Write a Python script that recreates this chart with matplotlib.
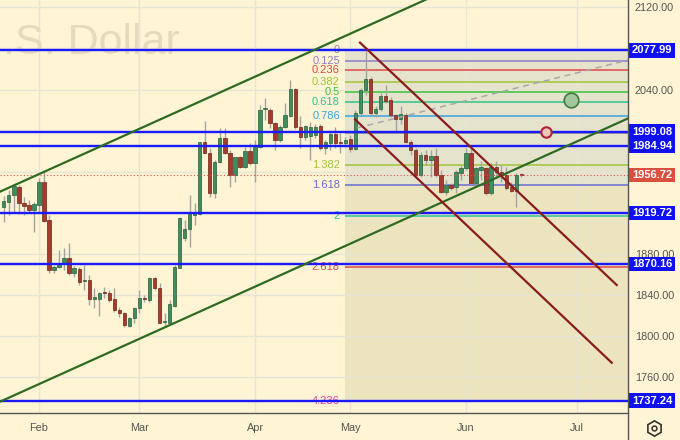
import numpy as np
import matplotlib
matplotlib.use('Agg')
import matplotlib.pyplot as plt
from matplotlib.patches import Rectangle
from matplotlib.lines import Line2D
import matplotlib.transforms as mtransforms

plt.rcParams['font.family'] = ['Liberation Sans', 'DejaVu Sans']

# ---------------- data ----------------
opens = [1925.4, 1930.9, 1937.4, 1945.5, 1929.9, 1927.6, 1922.8, 1927.6, 1950.3, 1913.0,
         1864.5, 1867.1, 1871.5, 1875.8, 1861.8, 1865.1, 1854.1, 1854.7, 1835.9, 1835.9,
         1842.5, 1842.3, 1835.9, 1825.5, 1822.9, 1810.2, 1817.4, 1827.1, 1836.2, 1835.2,
         1856.3, 1846.6, 1814.0, 1813.1, 1829.4, 1866.1, 1895.2, 1904.0, 1917.9, 1918.9,
         1988.6, 1978.5, 1939.6, 1969.8, 1993.1, 1978.5, 1956.8, 1974.0, 1964.3, 1980.5,
         1968.2, 1984.4, 2021.0, 2020.1, 2007.7, 1990.9, 2003.2, 2014.2, 2040.2, 2003.8,
         1994.1, 1995.0, 1996.0, 2004.8, 1982.8, 1988.3, 1996.7, 1988.6, 1988.2, 1992.0,
         1981.8, 2016.9, 2039.5, 2050.0, 2016.9, 2020.9, 2033.8, 2029.8, 2015.5, 2011.0,
         2015.2, 1989.2, 1981.2, 1956.8, 1976.3, 1971.4, 1975.3, 1956.8, 1940.6, 1947.1,
         1944.9, 1959.1, 1963.3, 1977.9, 1948.8, 1961.7, 1963.3, 1939.6, 1964.9, 1960.0,
         1956.8, 1945.0, 1941.6, 1957.5]
highs = [1936.4, 1942.2, 1948.0, 1947.0, 1935.0, 1932.5, 1930.9, 1953.6, 1960.0, 1918.0,
         1869.3, 1883.8, 1885.5, 1890.4, 1868.3, 1867.1, 1869.3, 1859.5, 1846.6, 1843.3,
         1848.2, 1844.9, 1846.6, 1828.8, 1823.8, 1818.4, 1828.7, 1844.9, 1840.1, 1857.9,
         1857.9, 1851.4, 1822.3, 1835.2, 1869.3, 1916.3, 1913.0, 1937.4, 1929.3, 1989.2,
         2009.7, 1982.8, 1971.4, 2002.8, 2002.3, 1981.2, 1974.6, 1975.3, 1984.4, 1988.2,
         1990.9, 2025.0, 2031.5, 2021.7, 2008.7, 2005.5, 2026.6, 2049.3, 2041.2, 2014.2,
         2005.5, 2008.7, 2006.0, 2006.0, 1991.0, 2000.0, 2003.8, 1997.4, 1994.1, 1995.7,
         2020.1, 2041.2, 2077.8, 2052.0, 2024.0, 2037.0, 2044.0, 2033.0, 2016.0, 2024.0,
         2017.5, 1991.0, 1982.8, 1979.5, 1981.2, 1981.2, 1982.8, 1962.0, 1951.5, 1948.8,
         1962.0, 1966.6, 1982.8, 1982.8, 1965.0, 1970.0, 1965.0, 1968.2, 1970.0, 1967.0,
         1965.0, 1950.0, 1958.5, 1958.5]
lows = [1911.4, 1917.9, 1920.0, 1919.0, 1918.0, 1919.6, 1901.7, 1920.2, 1911.4, 1861.2,
        1861.2, 1866.1, 1864.4, 1859.5, 1857.9, 1849.8, 1845.0, 1830.0, 1827.0, 1819.7,
        1836.9, 1833.6, 1823.8, 1818.4, 1809.2, 1809.2, 1812.5, 1822.3, 1833.6, 1833.6,
        1844.9, 1812.5, 1810.8, 1812.5, 1828.7, 1866.1, 1893.0, 1887.1, 1908.2, 1917.9,
        1977.9, 1935.7, 1934.0, 1968.2, 1977.3, 1944.9, 1950.3, 1963.3, 1963.3, 1966.6,
        1950.3, 1982.8, 2010.3, 2002.3, 1981.2, 1989.2, 2002.3, 2013.6, 2002.0, 1982.8,
        1990.9, 1971.4, 1993.0, 1981.0, 1977.0, 1981.0, 1982.8, 1977.9, 1984.4, 1979.5,
        1981.2, 2015.0, 2035.0, 2015.0, 2013.0, 2019.0, 2027.0, 2013.0, 2000.0, 2006.0,
        1987.9, 1976.3, 1955.2, 1955.2, 1966.6, 1955.2, 1955.0, 1939.0, 1937.5, 1942.0,
        1939.0, 1952.0, 1961.7, 1948.0, 1947.0, 1951.5, 1937.5, 1937.5, 1954.0, 1950.0,
        1942.0, 1940.5, 1926.0, 1954.5]
closes = [1931.8, 1937.4, 1946.2, 1929.3, 1927.0, 1922.8, 1928.3, 1950.3, 1912.4, 1864.5,
          1867.1, 1871.6, 1875.8, 1861.2, 1866.1, 1853.0, 1855.0, 1835.9, 1837.8, 1842.3,
          1842.0, 1835.2, 1825.5, 1822.3, 1810.9, 1817.4, 1827.1, 1836.9, 1836.0, 1856.3,
          1846.6, 1813.1, 1814.5, 1831.3, 1867.6, 1914.7, 1904.0, 1918.9, 1920.1, 1988.6,
          1978.5, 1939.6, 1969.8, 1993.1, 1978.5, 1956.8, 1974.0, 1964.3, 1980.5, 1968.2,
          1985.0, 2020.1, 2021.4, 2007.7, 1990.9, 2003.2, 2015.2, 2040.2, 2003.8, 1994.1,
          2004.8, 2004.0, 2004.0, 1982.8, 1989.2, 1996.4, 1988.2, 1988.0, 1990.9, 1981.8,
          2016.9, 2039.5, 2050.0, 2016.9, 2020.9, 2033.8, 2029.0, 2015.5, 2011.0, 2016.0,
          1989.2, 1981.2, 1956.8, 1976.3, 1971.4, 1975.3, 1956.8, 1940.6, 1947.1, 1943.9,
          1960.0, 1963.3, 1977.9, 1948.8, 1963.3, 1965.0, 1939.6, 1964.9, 1960.0, 1956.5,
          1943.9, 1941.6, 1956.8, 1956.7]
bar_index = np.arange(len(opens))

month_ticks = [7, 27, 50, 69, 92, 114]
month_labels = ['Feb', 'Mar', 'Apr', 'May', 'Jun', 'Jul']
price_ticks = [1760, 1800, 1840, 1880, 1920, 1960, 2000, 2040, 2080, 2120]
hidden_ticks = [1920, 1960, 2000, 2080]   # covered by the level boxes

level_prices = [2077.99, 1999.08, 1984.94, 1919.72, 1870.16, 1737.24]
last_price = 1956.72

fib_zero = 2078.0
fib_one = 1997.4
fib_levels = [0, 0.125, 0.236, 0.382, 0.5, 0.618, 0.786, 1, 1.382, 1.618, 2, 2.618, 4.236]
fib_texts = ['0', '0.125', '0.236', '0.382', '0.5', '0.618', '0.786', '', '1.382', '1.618', '2', '2.618', '4.236']
fib_colors = ['#8c8c8c', '#8e7cc3', '#e04848', '#9dc43a', '#3cc43c', '#2ec48c', '#3ca0e0',
              '#8c8c8c', '#9dc43a', '#6b6bd0', '#2ec4a0', '#e04848', '#e040a0']
fib_start = 67.9

green_upper_x, green_upper_y = [-0.756, 90.0], [1940.6, 2140.7]
green_lower_x, green_lower_y = [-0.756, 124.24], [1736.3, 2011.9]
red_upper_x, red_upper_y = [70.9, 122.0], [2085.6, 1849.8]
red_lower_x, red_lower_y = [69.9, 121.0], [2011.0, 1774.2]
dash_x, dash_y = [70.3, 124.24], [2002.6, 2068.7]
green_circle = (112.9, 2029.8)
red_circle = (107.9, 1998.7)

# ---------------- figure ----------------
BG = '#fff4d3'
W, H = 680, 440
fig = plt.figure(figsize=(6.8, 4.4), dpi=100, facecolor=BG)
ax = fig.add_axes([0, 27 / H, 628 / W, 413 / H], facecolor=BG)
XMIN, XMAX = -0.756, 124.24
YMIN, YMAX = 1725.3, 2127.1
ax.set_xlim(XMIN, XMAX)
ax.set_ylim(YMIN, YMAX)
for s in ax.spines.values():
    s.set_visible(False)

# grid / ticks
ax.set_yticks(price_ticks)
ax.set_yticklabels(['' if v in hidden_ticks else f'{v:.2f}' for v in price_ticks])
ax.yaxis.tick_right()
ax.set_xticks(month_ticks)
ax.set_xticklabels(month_labels)
ax.tick_params(axis='y', length=0, pad=5, labelsize=7.8, colors='#555555')
ax.tick_params(axis='x', length=0, pad=7, labelsize=7.8, colors='#555555')
ax.grid(True, color='#e8e4d4', lw=1, zorder=0.6)
ax.set_axisbelow(True)

# watermark
ax.text(180 / 628, 1 - 43 / 413, 'U.S. Dollar', transform=ax.transAxes, ha='right', va='center',
        fontsize=31, color='#e6dabd', zorder=0.7, clip_on=True)

# fib fills
fib_prices = [fib_zero - lv * (fib_zero - fib_one) for lv in fib_levels]
p1618 = fib_prices[fib_levels.index(1.618)]
ax.fill_between([fib_start, XMAX], p1618, fib_prices[0], color='#e6e3cd', zorder=0.5, lw=0)
ax.fill_between([fib_start, XMAX], fib_prices[-1], p1618, color='#ece4bf', zorder=0.5, lw=0)
for lv, p, t, c in zip(fib_levels, fib_prices, fib_texts, fib_colors):
    ax.plot([fib_start, XMAX], [p, p], color=c, lw=1.1, zorder=1, solid_capstyle='butt')
    if t:
        ax.text(66.9, p, t, color=c, fontsize=8.0, ha='right', va='center', zorder=1.5)

# candles
up_fc, up_ec = '#3f8c5d', '#2a5e3d'
dn_fc, dn_ec = '#a63b2c', '#6e2419'
o = np.array(opens); c = np.array(closes); hi = np.array(highs); lo = np.array(lows)
up = c >= o
ax.vlines(bar_index, lo, hi, color='#a3a3a3', lw=1, zorder=2)
body_h = np.maximum(np.abs(c - o), 0.9)
ax.bar(bar_index[up], body_h[up], bottom=np.minimum(o, c)[up], width=0.66,
       color=up_fc, edgecolor=up_ec, lw=0.5, zorder=2.2)
ax.bar(bar_index[~up], body_h[~up], bottom=np.minimum(o, c)[~up], width=0.66,
       color=dn_fc, edgecolor=dn_ec, lw=0.5, zorder=2.2)

# last price dotted line
ax.axhline(last_price, color='#d9534f', lw=0.8, ls=(0, (1, 2)), zorder=2.5)

# horizontal blue levels
for p in level_prices:
    ax.axhline(p, color='#1a1aff', lw=1.7, zorder=3)

# trend lines
ax.plot(green_upper_x, green_upper_y, color='#2e6b22', lw=1.6, zorder=3.2)
ax.plot(green_lower_x, green_lower_y, color='#2e6b22', lw=1.6, zorder=3.2)
ax.plot(red_upper_x, red_upper_y, color='#8b1c1c', lw=1.6, zorder=3.2)
ax.plot(red_lower_x, red_lower_y, color='#8b1c1c', lw=1.6, zorder=3.2)
ax.plot(dash_x, dash_y, color='#a8a8a8', lw=1.1, ls=(0, (4, 3)), zorder=3.1)
ax.plot(*green_circle, marker='o', ms=10.5, mfc='#a3c79c', mec='#3d7a3d', mew=1.2, zorder=3.5)
ax.plot(*red_circle, marker='o', ms=7.5, mfc='#ecc7b8', mec='#b0203a', mew=1.5, zorder=3.5)

# price label boxes
btr = mtransforms.blended_transform_factory(ax.transAxes, ax.transData)
bx0, bw = 1.0016, 46 / 628
bh = 14.6 / 1.0278
for p in level_prices + [last_price]:
    fc = '#d9503f' if p == last_price else '#1010f5'
    ax.add_patch(Rectangle((bx0, p - bh / 2), bw, bh, transform=btr, clip_on=False,
                           facecolor=fc, edgecolor='none', zorder=5))
    ax.text(bx0 + bw / 2, p, f'{p:.2f}', transform=btr, ha='center', va='center',
            color='white', fontsize=8, fontweight='bold', clip_on=False, zorder=6)

# frame lines
fig.add_artist(Line2D([628 / W, 628 / W], [0, 1], transform=fig.transFigure, color='#555555', lw=1))
fig.add_artist(Line2D([0, 628 / W], [27 / H, 27 / H], transform=fig.transFigure, color='#555555', lw=1))

# gear icon
gx, gy = 654 / W, 1 - 428 / H
fig.add_artist(Line2D([gx], [gy], transform=fig.transFigure, marker='h', ms=11,
                      mfc='none', mec='#333333', mew=1.2))
fig.add_artist(Line2D([gx], [gy], transform=fig.transFigure, marker='o', ms=3.5,
                      mfc='none', mec='#333333', mew=1.1))

fig.savefig('out.png', dpi=100, facecolor=BG)
